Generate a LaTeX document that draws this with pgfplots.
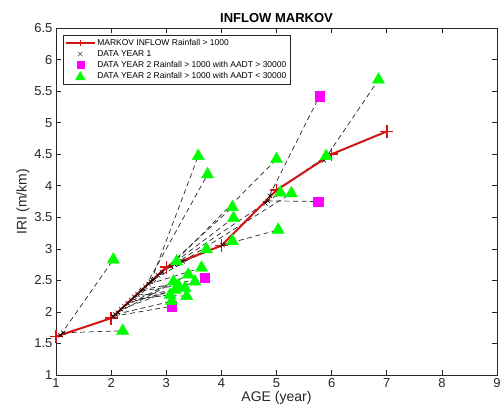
\documentclass[border=0pt]{standalone}
\usepackage{pgfplots}
\pgfplotsset{compat=1.18}
\usepackage{pgfplotstable}
\usepackage{fontspec}
\setmainfont{Liberation Sans}
\definecolor{axgray}{rgb}{0.15,0.15,0.15}
\definecolor{mred}{rgb}{0.82,0.08,0.08}
\definecolor{mgreen}{rgb}{0,1,0}
\definecolor{mmag}{rgb}{1,0,1}

\pgfplotstableread{
x y
1 1.61
2 1.90
3 2.71
4 3.05
5 3.93
6 4.50
7 4.86
}\markov

\pgfplotstableread{
x1 y1 x2 y2
1.08 1.63 2.04 2.83
1.13 1.67 2.21 1.70
2.72 2.48 3.58 4.47
2.62 2.40 3.75 4.18
5.86 4.40 6.85 5.68
4.88 3.84 5.90 4.47
4.02 3.06 5.03 3.30
3.08 2.73 5.00 4.42
3.15 2.75 5.07 3.89
3.30 2.80 5.27 3.88
2.85 2.58 4.20 3.66
2.92 2.63 4.22 3.49
3.20 2.76 4.20 3.12
2.78 2.52 3.73 2.99
2.68 2.44 3.64 2.70
2.76 2.50 3.19 2.80
2.12 1.99 3.40 2.59
2.18 2.04 3.52 2.48
2.24 2.09 3.13 2.48
2.30 2.14 3.16 2.35
2.36 2.19 3.07 2.27
2.42 2.24 3.34 2.38
2.48 2.28 3.37 2.25
2.08 1.96 3.10 2.17
2.54 2.33 3.22 2.42
}\tri

\pgfplotstableread{
x1 y1 x2 y2
4.80 3.72 5.78 5.42
4.84 3.76 5.76 3.75
2.56 2.35 3.70 2.54
2.04 1.93 3.10 2.09
}\sq

\begin{document}
\begin{tikzpicture}
\begin{axis}[
  name=ax,
  scale only axis,
  width=441pt, height=347pt,
  xmin=1, xmax=9, ymin=1, ymax=6.5,
  xtick={1,2,...,9},
  ytick={1,1.5,...,6.5},
  tick align=inside,
  xtick pos=both, ytick pos=both,
  major tick length=5pt,
  axis line style={axgray, line width=0.6pt},
  tick style={axgray, line width=0.6pt},
  every tick label/.append style={text=axgray, font=\fontsize{13}{15}\selectfont},
  /pgf/number format/assume math mode=true,
  xlabel={AGE (year)},
  ylabel={IRI (m/km)},
  xlabel style={font=\fontsize{14}{16}\selectfont, text=axgray, yshift=3pt},
  ylabel style={font=\fontsize{14}{16}\selectfont, text=axgray, yshift=-2pt},
  title={\textbf{INFLOW MARKOV}},
  title style={font=\fontsize{13}{15}\selectfont, yshift=-4pt},
  legend cell align=left,
  legend style={at={(rel axis cs:0.016,0.98)}, anchor=north west,
    font=\fontsize{8.5}{10}\selectfont, draw=axgray, line width=0.5pt,
    row sep=-0.5pt, inner sep=2pt},
]
\addplot[forget plot, black!85, line width=0.7pt,
  dash pattern=on 5pt off 3.5pt,
  quiver={u=\thisrow{x2}-\thisrow{x1}, v=\thisrow{y2}-\thisrow{y1}}]
  table[x=x1, y=y1] {\tri};
\addplot[forget plot, black!85, line width=0.7pt,
  dash pattern=on 5pt off 3.5pt,
  quiver={u=\thisrow{x2}-\thisrow{x1}, v=\thisrow{y2}-\thisrow{y1}}]
  table[x=x1, y=y1] {\sq};
\addplot[mred, line width=2pt, mark=+, mark size=6.5pt,
  mark options={line width=1.5pt},
  legend image code/.code={
    \draw[mred, line width=1.5pt] (0cm,0cm) -- (1cm,0cm);
    \draw[mred, line width=1pt] (0.5cm,-3pt) -- (0.5cm,3pt);}]
  table[x=x, y=y] {\markov};
\addlegendentry{MARKOV INFLOW Rainfall > 1000}
\addplot[only marks, black, mark=x, mark size=3pt, line width=0.5pt,
  legend image code/.code={
    \draw[black!70, line width=0.5pt] (0.5cm,0cm) node {} plot[mark=x, mark size=3pt] coordinates {(0.5cm,0cm)};}]
  table[x=x1, y=y1] {\tri};
\addlegendentry{DATA YEAR 1}
\addplot[only marks, mmag, mark=square*, mark size=4.8pt,
  mark options={draw=mmag, fill=mmag},
  legend image code/.code={
    \draw[mmag, fill=mmag] plot[mark=square*, mark size=3.5pt] coordinates {(0.5cm,0cm)};}]
  table[x=x2, y=y2] {\sq};
\addlegendentry{DATA YEAR 2 Rainfall > 1000 with AADT > 30000}
\addplot[only marks, mgreen, mark=triangle*, mark size=7pt,
  mark options={draw=mgreen, fill=mgreen},
  legend image code/.code={
    \draw[mgreen, fill=mgreen] plot[mark=triangle*, mark size=5.5pt] coordinates {(0.5cm,-1pt)};}]
  table[x=x2, y=y2] {\tri};
\addlegendentry{DATA YEAR 2 Rainfall > 1000 with AADT < 30000}
\addplot[forget plot, only marks, black, mark=x, mark size=3pt, line width=0.5pt]
  table[x=x1, y=y1] {\sq};
\end{axis}
\pgfresetboundingbox
\path[use as bounding box] ([xshift=-56pt,yshift=-43pt]ax.south west) rectangle ([xshift=3pt,yshift=28pt]ax.north east);
\end{tikzpicture}
\end{document}
